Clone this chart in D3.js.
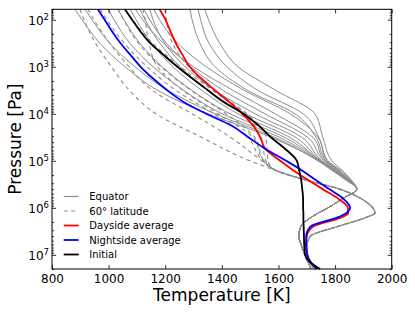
<!DOCTYPE html>
<html>
<head>
<meta charset="utf-8">
<script src="https://cdn.jsdelivr.net/npm/d3@7"></script>
<style>
  body { margin: 0; background: #fff; }
  text { font-family: "DejaVu Sans", sans-serif; }
</style>
</head>
<body>
<script>
// pressure levels [Pa] for the averages and the initial profile
var pLevels = [60, 100, 180, 320, 560, 1000, 1800, 3200, 5600, 1e4, 1.8e4, 3.2e4, 5.6e4, 1e5, 1.6e5, 2.5e5,
  4e5, 6.3e5, 1e6, 1.3e6, 1.6e6, 2.5e6, 4e6, 6.3e6, 1e7, 1.4e7, 2e7];

// temperatures [K]
var initialT = [1058, 1083, 1113, 1148, 1194, 1243, 1297, 1352, 1406, 1476, 1531, 1574, 1624, 1665, 1673, 1680,
  1684, 1687, 1687, 1688, 1688, 1689, 1690, 1691, 1694, 1710, 1747];
var daysideT = [1180, 1201, 1219, 1238, 1261, 1287, 1328, 1377, 1426, 1472, 1511, 1536, 1554, 1606, 1653, 1702,
  1756, 1810, 1845, 1846, 1822, 1722, 1700, 1697, 1701, 1712, 1735];
var nightsideT = [962, 986, 1013, 1043, 1077, 1113, 1158, 1208, 1265, 1345, 1435, 1495, 1554, 1627, 1683, 1729,
  1779, 1828, 1853, 1839, 1809, 1713, 1698, 1698, 1702, 1713, 1736];

// equator profiles: upper part per profile, lower part shared
var equatorP = [60, 100, 320, 1000, 3200, 1e4, 3.2e4, 1e5, 1.6e5, 2.5e5, 4e5];
var equatorT = [
  [881, 906, 970, 1058, 1174, 1351, 1577, 1740, 1789, 1835, 1877],
  [917, 941, 1005, 1093, 1210, 1376, 1588, 1740, 1793, 1839, 1877],
  [998, 1019, 1076, 1157, 1266, 1401, 1605, 1743, 1793, 1839, 1877],
  [1033, 1054, 1111, 1189, 1295, 1429, 1623, 1747, 1796, 1839, 1877],
  [1076, 1097, 1153, 1227, 1330, 1457, 1641, 1747, 1796, 1842, 1877],
  [1111, 1129, 1182, 1252, 1351, 1485, 1662, 1750, 1800, 1842, 1877],
  [1146, 1157, 1199, 1270, 1376, 1517, 1683, 1754, 1803, 1846, 1877],
  [1125, 1145, 1205, 1290, 1405, 1552, 1704, 1761, 1807, 1846, 1877],
  [1095, 1120, 1195, 1300, 1440, 1588, 1722, 1764, 1810, 1849, 1877],
  [1160, 1180, 1245, 1345, 1480, 1641, 1740, 1771, 1814, 1849, 1877],
  [1287, 1295, 1323, 1376, 1492, 1658, 1733, 1768, 1814, 1849, 1877],
  [1316, 1325, 1355, 1418, 1528, 1687, 1743, 1775, 1821, 1853, 1877],
  [1340, 1353, 1393, 1457, 1591, 1729, 1757, 1789, 1825, 1856, 1877]
];
var equatorTailP = [6.3e5, 1e6, 1.3e6, 1.6e6, 2.5e6, 4e6, 6.3e6, 1e7, 1.4e7, 2e7];
var equatorTailT = [1828, 1775, 1740, 1715, 1679, 1672, 1681, 1693, 1704, 1715];

// 60 degree latitude profiles
var latitudeP = [60, 100, 320, 1000, 3200, 1e4, 3.2e4, 1e5];
var latitudeT = [
  [899, 913, 954, 1010, 1074, 1167, 1330, 1499],
  [927, 948, 1005, 1072, 1155, 1295, 1432, 1542],
  [970, 994, 1056, 1136, 1238, 1372, 1492, 1545],
  [1033, 1053, 1106, 1185, 1291, 1415, 1517, 1549],
  [1121, 1129, 1143, 1173, 1263, 1386, 1510, 1549],
  [1199, 1204, 1226, 1282, 1369, 1482, 1538, 1556],
  [1058, 1084, 1157, 1254, 1369, 1489, 1556, 1563]
];
var latitudeTailP = [1.6e5, 2.5e5, 4e5, 6.3e5, 1e6, 1.3e6, 1.6e6, 2.5e6, 4e6, 6.3e6, 1e7, 1.4e7, 2e7];
var latitudeTailT = [1591, 1690, 1816, 1890, 1933, 1941, 1909, 1809, 1713, 1701, 1703, 1711, 1725];

// axis ticks
var xTicks = [800, 1000, 1200, 1400, 1600, 1800, 2000];
var yTicks = [1e2, 1e3, 1e4, 1e5, 1e6, 1e7];

var legendItems = [
  {label: "Equator", color: "#8c8c8c", dash: null, w: 1.2},
  {label: "60\u00b0 latitude", color: "#8c8c8c", dash: "4,3.5", w: 1.2},
  {label: "Dayside average", color: "#ff0000", dash: null, w: 1.8},
  {label: "Nightside average", color: "#0000ff", dash: null, w: 1.8},
  {label: "Initial", color: "#000000", dash: null, w: 1.8}
];

var width = 415, height = 312;
var plotLeft = 52, plotRight = 391.7, plotTop = 9.3, plotBottom = 269;

var svg = d3.select("body").append("svg")
  .attr("width", width)
  .attr("height", height);

var x = d3.scaleLinear().domain([800, 2000]).range([plotLeft, plotRight]);
var y = d3.scaleLog().domain([60, 2e7]).range([plotTop, plotBottom]);

var line = d3.line()
  .x(function(d) { return x(d[0]); })
  .y(function(d) { return y(d[1]); })
  .curve(d3.curveMonotoneY);

var plot = svg.append("g");

// equator lines
equatorT.forEach(function(t) {
  plot.append("path")
    .attr("d", line(d3.zip(t.concat(equatorTailT), equatorP.concat(equatorTailP))))
    .attr("fill", "none")
    .attr("stroke", "#8c8c8c")
    .attr("stroke-width", 1);
});

// 60 degree latitude lines
latitudeT.forEach(function(t) {
  plot.append("path")
    .attr("d", line(d3.zip(t.concat(latitudeTailT), latitudeP.concat(latitudeTailP))))
    .attr("fill", "none")
    .attr("stroke", "#8c8c8c")
    .attr("stroke-width", 1.1)
    .attr("stroke-dasharray", "4,3.5");
});

// averages and initial profile
[[daysideT, "#ff0000"], [nightsideT, "#0000ff"], [initialT, "#000000"]].forEach(function(s) {
  plot.append("path")
    .attr("d", line(d3.zip(s[0], pLevels)))
    .attr("fill", "none")
    .attr("stroke", s[1])
    .attr("stroke-width", 1.8);
});

// minor y ticks
var minor = [];
for (var e = 1; e <= 7; e++) {
  for (var m = 2; m <= 9; m++) {
    var v = m * Math.pow(10, e);
    if (v >= 60 && v <= 2e7) minor.push(v);
  }
}

function styleAxis(g) {
  g.select(".domain").remove();
  g.selectAll("line").attr("stroke", "#000").attr("stroke-width", 0.8);
  g.selectAll("text").attr("font-family", "DejaVu Sans").attr("font-size", 12).attr("fill", "#000");
}

svg.append("g")
  .attr("transform", "translate(0," + plotBottom + ")")
  .call(d3.axisBottom(x).tickValues(xTicks).tickFormat(d3.format("d"))
    .tickSizeInner(-4).tickSizeOuter(0).tickPadding(5))
  .call(styleAxis);

svg.append("g")
  .attr("transform", "translate(0," + plotTop + ")")
  .call(d3.axisTop(x).tickValues(xTicks).tickSizeInner(-4).tickSizeOuter(0).tickFormat(""))
  .call(styleAxis);

var yLeft = svg.append("g")
  .attr("transform", "translate(" + plotLeft + ",0)")
  .call(d3.axisLeft(y).tickValues(yTicks).tickSizeInner(-4).tickSizeOuter(0).tickPadding(3))
  .call(styleAxis);

// labels as 10 with superscript exponent
yLeft.selectAll(".tick text")
  .text(null)
  .attr("dy", "0.4em")
  .each(function(d) {
    var t = d3.select(this);
    t.append("tspan").text("10");
    t.append("tspan")
      .attr("dy", "-0.55em")
      .attr("font-size", 8.5)
      .text(Math.round(Math.log10(d)));
  });

svg.append("g")
  .attr("transform", "translate(" + plotLeft + ",0)")
  .call(d3.axisLeft(y).tickValues(minor).tickSizeInner(-2).tickSizeOuter(0).tickFormat(""))
  .call(styleAxis);

svg.append("g")
  .attr("transform", "translate(" + plotRight + ",0)")
  .call(d3.axisRight(y).tickValues(yTicks).tickSizeInner(-4).tickSizeOuter(0).tickFormat(""))
  .call(styleAxis);

svg.append("g")
  .attr("transform", "translate(" + plotRight + ",0)")
  .call(d3.axisRight(y).tickValues(minor).tickSizeInner(-2).tickSizeOuter(0).tickFormat(""))
  .call(styleAxis);

// frame
svg.append("rect")
  .attr("x", plotLeft)
  .attr("y", plotTop)
  .attr("width", plotRight - plotLeft)
  .attr("height", plotBottom - plotTop)
  .attr("fill", "none")
  .attr("stroke", "#000")
  .attr("stroke-width", 1);

// axis titles
svg.append("text")
  .attr("x", (plotLeft + plotRight) / 2)
  .attr("y", 301)
  .attr("text-anchor", "middle")
  .attr("font-size", 17)
  .text("Temperature [K]");

svg.append("text")
  .attr("transform", "translate(20.5," + (plotTop + plotBottom) / 2 + ") rotate(-90)")
  .attr("text-anchor", "middle")
  .attr("font-size", 17)
  .text("Pressure [Pa]");

// legend
var legend = svg.append("g");
legendItems.forEach(function(item, i) {
  var ly = 196.5 + i * 14.5;
  legend.append("line")
    .attr("x1", 63.7).attr("x2", 78.7)
    .attr("y1", ly).attr("y2", ly)
    .attr("stroke", item.color)
    .attr("stroke-width", item.w)
    .attr("stroke-dasharray", item.dash);
  legend.append("text")
    .attr("x", 89.3)
    .attr("y", ly + 3.6)
    .attr("font-size", 10)
    .text(item.label);
});
</script>
</body>
</html>
